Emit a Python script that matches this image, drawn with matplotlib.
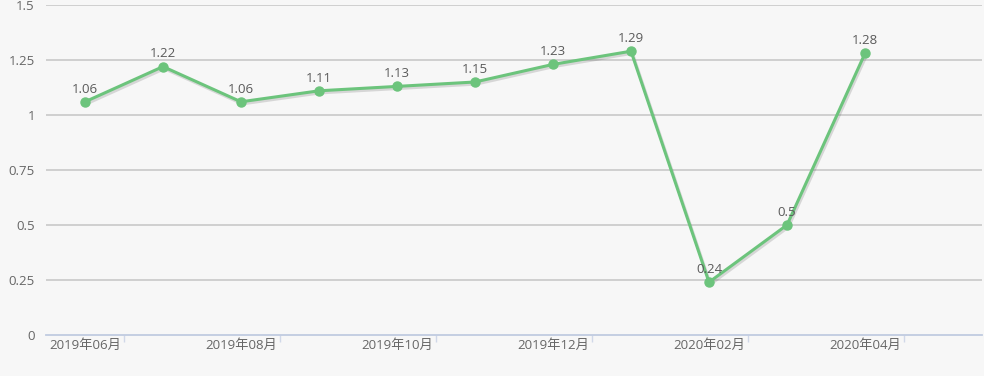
import matplotlib
matplotlib.use("Agg")
import matplotlib.pyplot as plt
import matplotlib.patheffects as pe
import numpy as np

plt.rcParams['font.family'] = ['Open Sans', 'Noto Sans CJK SC', 'DejaVu Sans']

months = ["2019年06月", "2019年07月", "2019年08月", "2019年09月", "2019年10月", "2019年11月",
          "2019年12月", "2020年01月", "2020年02月", "2020年03月", "2020年04月", "2020年05月"]
values = [1.06, 1.22, 1.06, 1.11, 1.13, 1.15, 1.23, 1.29, 0.24, 0.5, 1.28]
yticks = [0, 0.25, 0.5, 0.75, 1, 1.25, 1.5]
ytick_labels = ["0", "0.25", "0.5", "0.75", "1", "1.25", "1.5"]

bg = "#f7f7f7"
green = "#6cc47c"
text_color = "#666666"

fig = plt.figure(figsize=(9.84, 3.76), dpi=100, facecolor=bg)
ax = fig.add_axes([46 / 984, 41 / 376, 936 / 984, 330 / 376], facecolor=bg)

x = np.arange(len(values))
ax.plot(x, values, color=green, lw=2.2, zorder=3,
        path_effects=[pe.SimpleLineShadow(offset=(1, -1.5), alpha=0.18, shadow_color="#444444"), pe.Normal()])
ax.plot(x, values, ls="none", marker="o", ms=6.5, color=green, zorder=4)
for xi, v in zip(x, values):
    ax.annotate(f"{v:g}", (xi, v), xytext=(0, 4.5), textcoords="offset points",
                ha="center", va="bottom", fontsize=9.5, color="#5a5a5a", zorder=5)

ax.set_xlim(-0.5, len(months) - 0.5)
ax.set_ylim(0, 1.5)
ax.set_yticks(yticks)
ax.set_yticklabels(ytick_labels)
for yt in yticks[1:]:
    ax.axhline(yt, color="#cccccc", lw=1.3, zorder=1)

# labels on every other category, ticks on band boundaries
ax.set_xticks(x[::2])
ax.set_xticklabels(months[::2])
ax.set_xticks(np.arange(0.5, len(months), 2), minor=True)
ax.tick_params(axis="x", which="major", length=0, pad=3, labelsize=9.5, labelcolor=text_color)
ax.tick_params(axis="x", which="minor", length=5, color="#d0d8e8", width=1)
ax.tick_params(axis="y", length=0, pad=8, labelsize=9.5, labelcolor=text_color)

for s in ["top", "right", "left"]:
    ax.spines[s].set_visible(False)
ax.spines["bottom"].set_color("#c0cbe0")
ax.spines["bottom"].set_linewidth(1.3)

fig.savefig("out.png", dpi=100, facecolor=bg)
